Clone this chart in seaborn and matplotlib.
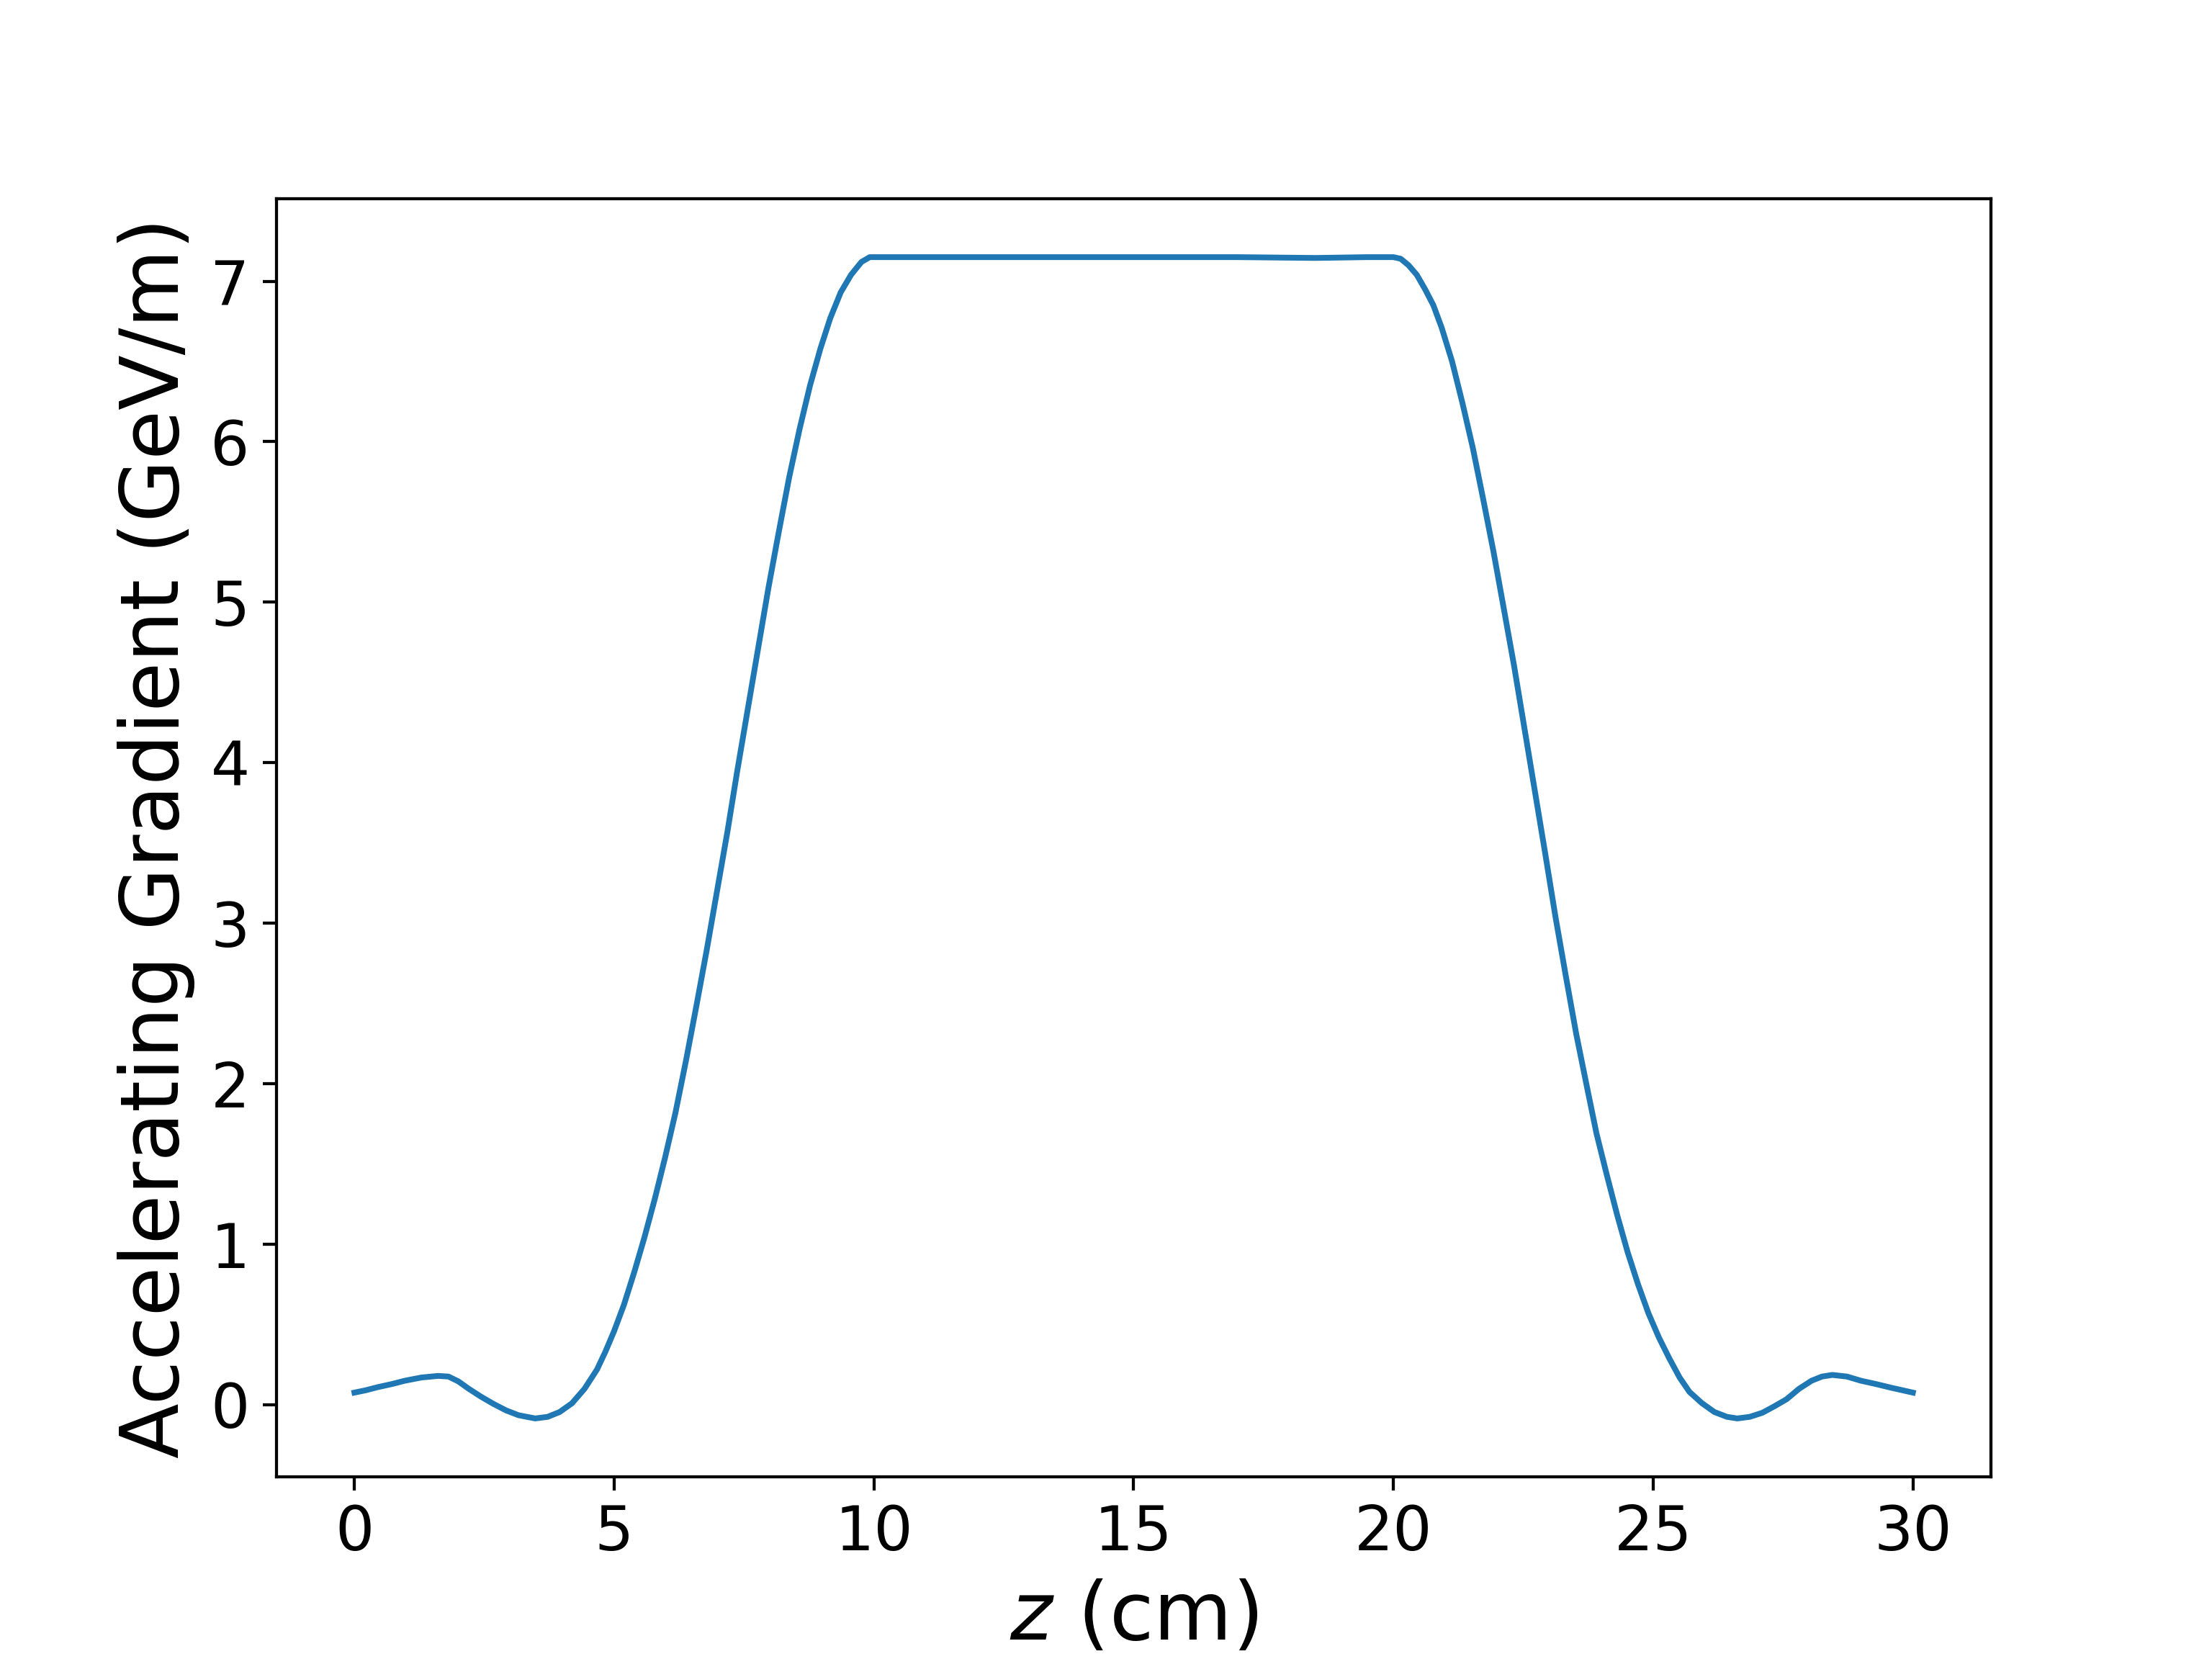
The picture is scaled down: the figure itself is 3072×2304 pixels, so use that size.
import matplotlib
matplotlib.use("Agg")
import matplotlib.pyplot as plt
import seaborn as sns
import pandas as pd

# values (z in cm, gradient in GeV/m)
z_rise = [
    0.0, 0.21, 0.45, 0.73, 0.97, 1.29, 1.61, 1.81, 2.0, 2.2,
    2.44, 2.68, 2.92, 3.16, 3.48, 3.72, 3.95, 4.19, 4.43, 4.67,
    4.83, 5.0, 5.19, 5.39, 5.58, 5.78, 5.98, 6.18, 6.38, 6.58,
    6.78, 6.98, 7.18, 7.37, 7.57, 7.77, 7.97, 8.17, 8.37, 8.57,
    8.77, 8.97, 9.16, 9.36, 9.56, 9.76, 9.92,
]
e_rise = [
    0.076, 0.09, 0.11, 0.13, 0.15, 0.17, 0.18, 0.176, 0.146, 0.10,
    0.05, 0.005, -0.035, -0.065, -0.085, -0.075, -0.045, 0.01, 0.10, 0.22,
    0.33, 0.46, 0.625, 0.83, 1.04, 1.28, 1.54, 1.82, 2.14, 2.48,
    2.83, 3.20, 3.57, 3.95, 4.33, 4.71, 5.09, 5.44, 5.78, 6.08,
    6.35, 6.58, 6.77, 6.93, 7.04, 7.12, 7.15,
]

z_flat = [10.5, 12.0, 14.0, 16.0, 17.0, 18.5, 19.5]
e_flat = [7.15, 7.15, 7.15, 7.15, 7.15, 7.145, 7.15]

z_fall = [
    20.0, 20.14, 20.29, 20.45, 20.61, 20.77, 20.93, 21.13, 21.33, 21.53,
    21.73, 21.93, 22.12, 22.32, 22.52, 22.72, 22.92, 23.12, 23.32, 23.52,
    23.72, 23.91, 24.11, 24.31, 24.51, 24.71, 24.91, 25.11, 25.31, 25.51,
    25.7, 25.94, 26.18, 26.42, 26.62, 26.86, 27.1, 27.33, 27.57, 27.81,
    28.05, 28.25, 28.45, 28.73, 29.0, 29.28, 29.6, 30.0,
]
e_fall = [
    7.15, 7.14, 7.10, 7.04, 6.95, 6.85, 6.71, 6.50, 6.24, 5.96,
    5.64, 5.31, 4.97, 4.61, 4.22, 3.83, 3.44, 3.04, 2.67, 2.31,
    1.99, 1.69, 1.43, 1.18, 0.95, 0.75, 0.57, 0.42, 0.29, 0.17,
    0.08, 0.01, -0.045, -0.075, -0.085, -0.075, -0.05, -0.01, 0.035, 0.10,
    0.15, 0.176, 0.186, 0.176, 0.15, 0.13, 0.105, 0.076,
]

df = pd.DataFrame({
    "z": z_rise + z_flat + z_fall,
    "E": e_rise + e_flat + e_fall,
})

fig, ax = plt.subplots(figsize=(8, 6), dpi=384)
sns.lineplot(data=df, x="z", y="E", ax=ax, color="#1f77b4", linewidth=1.5,
             sort=False, estimator=None)

ax.set_xlabel("$z$ (cm)", fontsize=21)
ax.set_ylabel("Accelerating Gradient (GeV/m)", fontsize=21)
ax.tick_params(labelsize=16)

fig.savefig("out.png", dpi=384)
